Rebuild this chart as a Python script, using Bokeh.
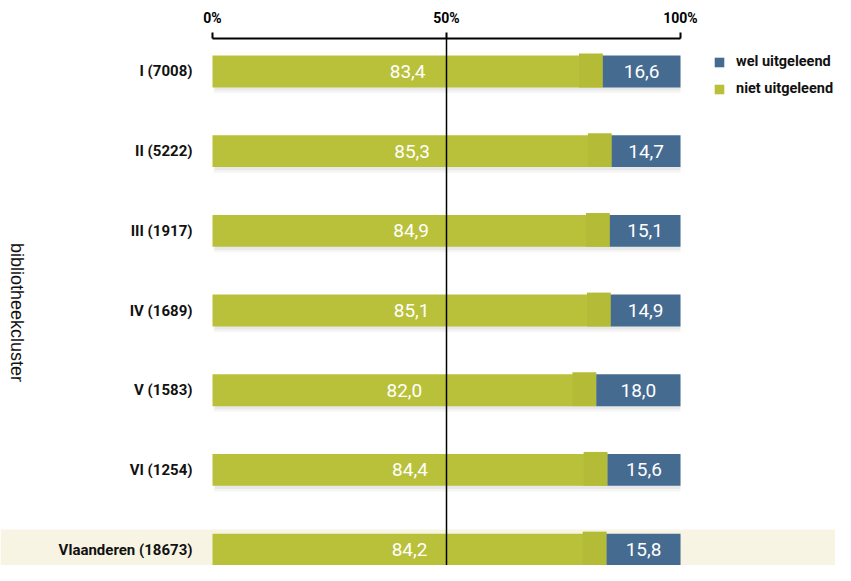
import math
from bokeh.plotting import figure
from bokeh.models import (ColumnDataSource, Range1d, FixedTicker, Span, BoxAnnotation,
                          Legend, LegendItem, LabelSet)
from bokeh.core.properties import value
from bokeh.embed import file_html
from bokeh.resources import INLINE

clusters = ["I (7008)", "II (5222)", "III (1917)", "IV (1689)", "V (1583)", "VI (1254)", "Vlaanderen (18673)"]
niet = [83.4, 85.3, 84.9, 85.1, 82.0, 84.4, 84.2]
wel = [16.6, 14.7, 15.1, 14.9, 18.0, 15.6, 15.8]
x_ticks = [0, 50, 100]
x_tick_labels = ["0%", "50%", "100%"]
series_names = ["wel uitgeleend", "niet uitgeleend"]
y_title = "bibliotheekcluster"

GREEN = "#b9c13b"
GREEN_DARK = "#b4bc37"
BLUE = "#456b91"
FONT = "Roboto"

pos = list(range(len(clusters)))
wel_end = [n + w for n, w in zip(niet, wel)]
fmt = lambda v: f"{v:.1f}".replace(".", ",")

src = ColumnDataSource(dict(
    y=pos,
    y_sh=[p + 0.05 for p in pos],
    y_patch=[p - 0.0125 for p in pos],
    zero=[0] * len(pos),
    niet=niet,
    niet_patch=[n - 5.1 for n in niet],
    wel_end=wel_end,
    niet_mid=[n / 2 for n in niet],
    wel_mid=[(n + e) / 2 for n, e in zip(niet, wel_end)],
    niet_txt=[fmt(v) for v in niet],
    wel_txt=[fmt(v) for v in wel],
    lab_x=[-4.27] * len(pos),
    lab=clusters,
))

W, H = 835, 565
PX = 4.68  # pixels per percent
p = figure(width=W, height=H, output_backend="svg", toolbar_location=None,
           x_range=Range1d(-212 / PX, (W - 212) / PX), y_range=Range1d(6.20, -0.414),
           x_axis_location="above", y_axis_location=None,
           min_border_left=0, min_border_right=0, min_border_top=38, min_border_bottom=0)
p.outline_line_color = None
p.xgrid.visible = False
p.ygrid.visible = False
p.background_fill_color = "white"
p.border_fill_color = "white"

# highlight band for Vlaanderen
p.add_layout(BoxAnnotation(top=5.749, bottom=8.0, fill_color="#f7f4e4", fill_alpha=1,
                           line_color=None, level="underlay"))

# soft shadows
p.hbar(y="y_sh", left=0.2, right="wel_end", height=0.44, source=src,
       fill_color="#000000", fill_alpha=0.04, line_color=None)
p.hbar(y="y_sh", left=0.5, right="wel_end", height=0.38, source=src,
       fill_color="#000000", fill_alpha=0.05, line_color=None)

r_green = p.hbar(y="y", left="zero", right="niet", height=0.4, source=src,
                 fill_color=GREEN, line_color=None)
p.hbar(y="y_patch", left="niet_patch", right="niet", height=0.425, source=src,
       fill_color=GREEN_DARK, line_color=None)
r_blue = p.hbar(y="y", left="niet", right="wel_end", height=0.4, source=src,
                fill_color=BLUE, line_color=None)

for xcol, tcol in (("niet_mid", "niet_txt"), ("wel_mid", "wel_txt")):
    p.add_layout(LabelSet(x=xcol, y="y", text=tcol, source=src, text_color="white",
                          text_font=value(FONT), text_font_size="19px",
                          text_align="center", text_baseline="middle"))

# category labels
p.text(x="lab_x", y="y", text="lab", source=src, text_align="right", text_baseline="middle",
       text_font=value(FONT), text_font_style="bold", text_font_size="15px",
       text_color="#111111")

# axis title (reads top to bottom)
p.text(x=[-41.67], y=[3.025], text=[y_title], angle=-math.pi / 2,
       text_align="center", text_baseline="middle", text_font=value("Liberation Sans"),
       text_font_size="18px", text_color="#111111")

p.add_layout(Span(location=50, dimension="height", line_color="black", line_width=1.5))

# top axis
xa = p.xaxis[0]
xa.bounds = (0, 100)
xa.ticker = FixedTicker(ticks=x_ticks)
xa.major_label_overrides = {t: l for t, l in zip(x_ticks, x_tick_labels)}
xa.axis_line_width = 2
xa.axis_line_color = "black"
xa.major_tick_line_width = 2
xa.major_tick_out = 6
xa.major_tick_in = 0
xa.minor_tick_out = 0
xa.minor_tick_in = 0
xa.major_label_standoff = 7
xa.major_label_text_font = FONT
xa.major_label_text_font_style = "bold"
xa.major_label_text_font_size = "14px"
xa.major_label_text_color = "black"

legend = Legend(items=[LegendItem(label=series_names[0], renderers=[r_blue]),
                       LegendItem(label=series_names[1], renderers=[r_green])],
                location=(713, 468), padding=0, spacing=10, margin=0,
                glyph_width=12, glyph_height=12, label_height=15, label_standoff=11,
                border_line_color=None, background_fill_alpha=0,
                label_text_font=FONT, label_text_font_style="bold",
                label_text_font_size="14.5px", label_text_color="#111111")
p.add_layout(legend)

open("out.html", "w").write(file_html(p, INLINE))
